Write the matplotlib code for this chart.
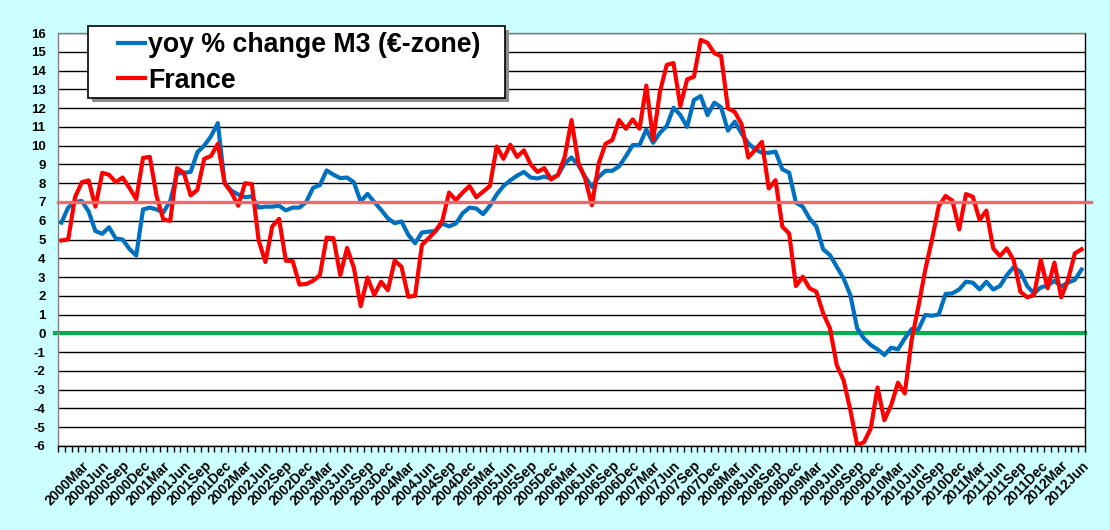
import matplotlib
matplotlib.use("Agg")
import matplotlib.pyplot as plt
from matplotlib.patches import Rectangle
import pandas as pd
import numpy as np

plt.rcParams["axes.unicode_minus"] = False

# ---- data ----
months = pd.period_range("1999-12", "2012-06", freq="M")
month_labels = [f"{p.year}{p.strftime('%b')}" for p in months]

m3_ez = [5.9, 6.7, 7.0, 7.05, 6.5, 5.45, 5.3, 5.65, 5.05, 5.0,
         4.5, 4.15, 6.6, 6.7, 6.6, 6.45, 7.05, 8.5, 8.55, 8.6,
         9.65, 10.0, 10.5, 11.2, 8.0, 7.6, 7.4, 7.25, 7.3, 6.7,
         6.75, 6.75, 6.8, 6.55, 6.7, 6.7, 7.0, 7.75, 7.9, 8.68,
         8.45, 8.27, 8.3, 8.05, 7.02, 7.43, 7.0, 6.58, 6.13, 5.87,
         5.96, 5.25, 4.8, 5.37, 5.42, 5.45, 5.85, 5.7, 5.85, 6.4,
         6.7, 6.65, 6.35, 6.8, 7.4, 7.85, 8.15, 8.4, 8.6, 8.3,
         8.25, 8.35, 8.25, 8.43, 9.05, 9.37, 8.96, 8.34, 7.8, 8.34,
         8.66, 8.66, 8.9, 9.44, 10.03, 10.03, 10.86, 10.15, 10.68, 11.04,
         12.02, 11.63, 11.0, 12.43, 12.64, 11.63, 12.29, 12.04, 10.8, 11.28,
         10.65, 10.12, 9.8, 9.62, 9.62, 9.68, 8.74, 8.56, 6.96, 6.75,
         6.12, 5.7, 4.48, 4.17, 3.55, 2.93, 2.04, 0.27, -0.27, -0.62,
         -0.85, -1.15, -0.76, -0.85, -0.27, 0.23, 0.2, 0.98, 0.94, 1.01,
         2.1, 2.13, 2.34, 2.75, 2.7, 2.34, 2.75, 2.34, 2.52, 3.1,
         3.52, 3.29, 2.52, 2.13, 2.45, 2.55, 2.8, 2.5, 2.7, 2.85,
         3.4]

france = [4.95, 5.0, 7.25, 8.05, 8.15, 6.75, 8.55, 8.45, 8.05, 8.3,
          7.75, 7.15, 9.35, 9.4, 7.3, 6.05, 6.0, 8.8, 8.55, 7.35,
          7.65, 9.3, 9.45, 10.1, 8.0, 7.5, 6.8, 8.0, 7.95, 4.95,
          3.8, 5.7, 6.1, 3.87, 3.85, 2.6, 2.63, 2.8, 3.1, 5.1,
          5.07, 3.1, 4.55, 3.5, 1.45, 2.97, 2.05, 2.75, 2.3, 3.88,
          3.55, 1.95, 2.0, 4.71, 5.07, 5.45, 6.0, 7.5, 7.1, 7.5,
          7.85, 7.25, 7.55, 7.85, 9.95, 9.3, 10.05, 9.4, 9.75, 9.0,
          8.6, 8.8, 8.2, 8.43, 9.4, 11.36, 9.1, 8.25, 6.83, 9.05,
          10.1, 10.3, 11.36, 10.9, 11.4, 10.9, 13.2, 10.3, 12.87, 14.3,
          14.4, 12.1, 13.53, 13.67, 15.63, 15.48, 14.92, 14.77, 11.99, 11.8,
          11.15, 9.37, 9.77, 10.2, 7.72, 8.16, 5.68, 5.32, 2.52, 3.02,
          2.4, 2.22, 1.07, 0.27, -1.69, -2.49, -4.09, -5.95, -5.8, -5.06,
          -2.88, -4.62, -3.82, -2.63, -3.2, -0.36, 1.42, 3.37, 5.0, 6.78,
          7.32, 7.07, 5.54, 7.42, 7.28, 6.04, 6.54, 4.53, 4.12, 4.53,
          3.91, 2.22, 1.92, 2.04, 3.91, 2.4, 3.77, 1.92, 2.84, 4.26,
          4.48]

ref_level = 7
y_ticks = list(range(-6, 17))
label_step = 3

# ---- figure ----
W, H = 1110, 530
fig = plt.figure(figsize=(W / 100, H / 100), dpi=100, facecolor="#CCFFFF")
ax = fig.add_axes([58 / W, 1 - 446 / H, (1085 - 58) / W, (446 - 33) / H])
ax.set_facecolor("white")

font = "Liberation Sans"
x = np.arange(len(months))

ax.set_xlim(-0.5, len(months) - 0.5)
ax.set_ylim(-6, 16)
ax.set_yticks(y_ticks)
ax.yaxis.grid(True, color="black", linewidth=1.0, zorder=0)
ax.set_axisbelow(True)

ax.axhline(0, color="#00B050", linewidth=3.0, xmin=-0.003, clip_on=False, zorder=2)

l1, = ax.plot(x, m3_ez, color="#0070C0", linewidth=3.0, zorder=3,
              solid_joinstyle="round", label="yoy % change M3 (€-zone)")
l2, = ax.plot(x, france, color="#FF0000", linewidth=3.0, zorder=4,
              solid_joinstyle="round", label="France")

ax.axhline(ref_level, color="#F06868", linewidth=2.4,
           xmax=1.006, clip_on=False, zorder=5)

# x ticks
tick_idx = list(range(label_step, len(months), label_step))
ax.set_xticks(tick_idx)
ax.set_xticklabels([month_labels[i] for i in tick_idx], rotation=45,
                   ha="right", va="top", rotation_mode="anchor",
                   fontsize=10, fontweight="bold", family=font)
ax.set_xticks(np.arange(-0.5, len(months), 1), minor=True)
ax.tick_params(axis="x", which="major", length=0, pad=9)
ax.tick_params(axis="x", which="minor", length=4, width=1, color="black", direction="out")
ax.tick_params(axis="y", length=0, pad=9)
for lab in ax.get_yticklabels():
    lab.set_fontweight("bold")
    lab.set_fontsize(9.5)
    lab.set_family(font)

for side in ["top", "left"]:
    ax.spines[side].set_color("#808080")
for side in ["right", "bottom"]:
    ax.spines[side].set_color("black")
for s in ax.spines.values():
    s.set_linewidth(1.0)

# legend box (frame + shadow) in figure pixels
bx0, by0, bx1, by1 = 88, 26, 505, 98
shadow = Rectangle(((bx0 + 4) / W, 1 - (by1 + 4) / H), (bx1 - bx0) / W, (by1 - by0) / H,
                   transform=fig.transFigure, facecolor="#8c8c8c", edgecolor="none", zorder=8)
frame = Rectangle((bx0 / W, 1 - by1 / H), (bx1 - bx0) / W, (by1 - by0) / H,
                  transform=fig.transFigure, facecolor="white", edgecolor="black",
                  linewidth=1.2, zorder=9)
fig.add_artist(shadow)
fig.add_artist(frame)

leg = ax.legend(handles=[l1, l2], loc="upper left",
                bbox_to_anchor=(118 / W, 1 - 32 / H), bbox_transform=fig.transFigure,
                prop=dict(weight="bold", size=19.3, family=font),
                frameon=False, borderpad=0, labelspacing=0.36,
                handlelength=1.0, handletextpad=0.12, borderaxespad=0)
leg.set_zorder(10)
fig.add_artist(leg)

fig.savefig("out.png", dpi=100, facecolor=fig.get_facecolor())
